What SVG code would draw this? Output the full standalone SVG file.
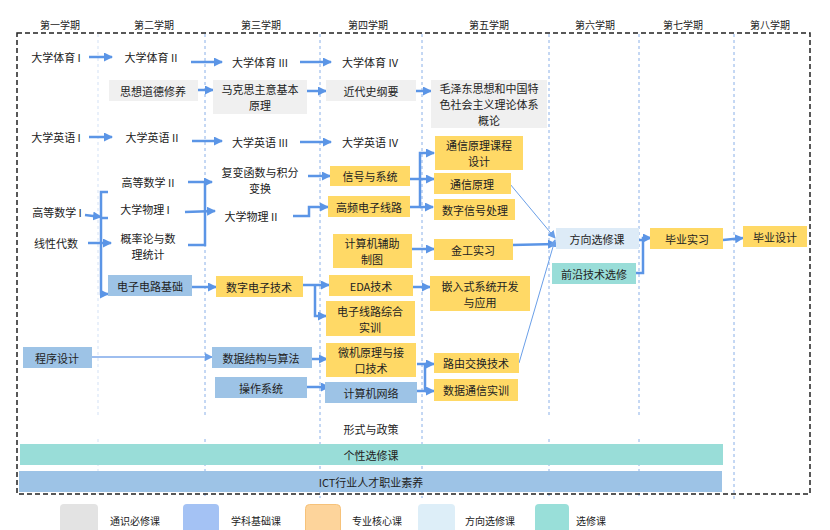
<svg xmlns="http://www.w3.org/2000/svg" width="830" height="530" viewBox="0 0 830 530">
<defs>
<style>
text{font-family:"Noto Sans CJK SC","Microsoft YaHei","Noto Sans",sans-serif;fill:#222;}
.tx{font-size:11px;text-anchor:middle;dominant-baseline:central;}
.hd{font-size:10px;text-anchor:middle;dominant-baseline:central;}
.lg{font-size:10px;dominant-baseline:central;}
.gray{fill:#f0f0f0;}
.blue{fill:#9dc3e6;}
.yel{fill:#ffd966;}
.lb{fill:#ddebf7;}
.teal{fill:#99ddd8;}
.c{stroke:#5b95e6;stroke-width:2.5;fill:none;}
.t{stroke:#6a9fe8;stroke-width:1;fill:none;}
.vl{stroke:#8ab0e8;stroke-width:1;stroke-dasharray:3,3;}
.vl0{stroke:#d3e1f5;stroke-width:1;stroke-dasharray:3,3;}
</style>
<marker id="ah" markerUnits="userSpaceOnUse" markerWidth="9" markerHeight="9" refX="8" refY="4.5" orient="auto">
<path d="M0,0 L9,4.5 L0,9 z" fill="#5b95e6"/>
</marker>
<marker id="ahs" markerUnits="userSpaceOnUse" markerWidth="8" markerHeight="8" refX="7" refY="4" orient="auto">
<path d="M0,0 L8,4 L0,8 z" fill="#6a9fe8"/>
</marker>
</defs>
<rect width="830" height="530" fill="#fff"/>

<g id="headers">
<text class="hd" x="60" y="24">第一学期</text>
<text class="hd" x="154" y="24">第二学期</text>
<text class="hd" x="261" y="24">第三学期</text>
<text class="hd" x="368" y="24">第四学期</text>
<text class="hd" x="489" y="24">第五学期</text>
<text class="hd" x="595" y="24">第六学期</text>
<text class="hd" x="683" y="24">第七学期</text>
<text class="hd" x="770" y="24">第八学期</text>
</g>

<g id="grid">
<line class="vl0" x1="98" y1="34" x2="98" y2="418"/>
<line class="vl0" x1="98" y1="439" x2="98" y2="494"/>
<line class="vl" x1="205" y1="34" x2="205" y2="418"/>
<line class="vl" x1="205" y1="439" x2="205" y2="496"/>
<line class="vl" x1="320" y1="34" x2="320" y2="498"/>
<line class="vl" x1="422" y1="34" x2="422" y2="498"/>
<line class="vl" x1="549" y1="34" x2="549" y2="418"/>
<line class="vl" x1="549" y1="439" x2="549" y2="498"/>
<line class="vl" x1="639" y1="34" x2="639" y2="418"/>
<line class="vl" x1="639" y1="439" x2="639" y2="499"/>
<line class="vl" x1="734" y1="34" x2="734" y2="499"/>
</g>

<g id="bars">
<rect class="teal" x="20" y="444" width="703" height="21"/>
<text class="tx" x="371" y="454.5">个性选修课</text>
<rect class="blue" x="19" y="471" width="703" height="21"/>
<text class="tx" x="371" y="481.5">ICT行业人才职业素养</text>
</g>

<rect x="17" y="33" width="793" height="461" fill="none" stroke="#222" stroke-width="1.5" stroke-dasharray="5,3"/>

<g id="connectors">
<line class="c" x1="89" y1="57" x2="112" y2="57" marker-end="url(#ah)"/>
<line class="c" x1="191" y1="62" x2="222" y2="62" marker-end="url(#ah)"/>
<line class="c" x1="300" y1="62" x2="331" y2="62" marker-end="url(#ah)"/>
<line class="c" x1="198" y1="90" x2="213" y2="90" marker-end="url(#ah)"/>
<line class="c" x1="307" y1="91" x2="326" y2="91" marker-end="url(#ah)"/>
<line class="c" x1="416" y1="91" x2="431" y2="91" marker-end="url(#ah)"/>
<line class="c" x1="89" y1="137" x2="112" y2="137" marker-end="url(#ah)"/>
<line class="c" x1="192" y1="141" x2="222" y2="141" marker-end="url(#ah)"/>
<line class="c" x1="300" y1="142" x2="331" y2="142" marker-end="url(#ah)"/>
<line class="c" x1="85" y1="215" x2="101" y2="217" marker-end="url(#ah)"/>
<line class="c" x1="88" y1="243" x2="111" y2="243" marker-end="url(#ah)"/>
<polyline class="c" points="108,192 101,192 101,294 108,294" marker-end="url(#ah)"/>
<line class="c" x1="101" y1="218" x2="108" y2="218"/>
<polyline class="c" points="188,245 205,245 205,182 188,182"/>
<line class="c" x1="205" y1="182" x2="212" y2="182" marker-end="url(#ah)"/>
<line class="c" x1="185" y1="212" x2="215" y2="211" marker-end="url(#ah)"/>
<line class="c" x1="308" y1="176" x2="330" y2="176" marker-end="url(#ah)"/>
<polyline class="c" points="293,216 309,216 309,207 328,207" marker-end="url(#ah)"/>
<line class="c" x1="410" y1="179" x2="434" y2="179" marker-end="url(#ah)"/>
<polyline class="c" points="409,207 420,207 420,153 434,153" marker-end="url(#ah)"/>
<line class="c" x1="420" y1="207" x2="433" y2="207" marker-end="url(#ah)"/>
<line class="c" x1="412" y1="249" x2="434" y2="249" marker-end="url(#ah)"/>
<line class="c" x1="512" y1="245" x2="556" y2="244" marker-end="url(#ah)"/>
<line class="t" x1="510" y1="184" x2="555" y2="238" marker-end="url(#ahs)"/>
<line class="t" x1="519" y1="363" x2="555" y2="240" marker-end="url(#ahs)"/>
<line class="c" x1="635" y1="240" x2="643" y2="240"/>
<polyline class="c" points="636,273 643,273 643,238 651,238" marker-end="url(#ah)"/>
<line class="c" x1="723" y1="240" x2="743" y2="238" marker-end="url(#ah)"/>
<line class="c" x1="192" y1="287" x2="216" y2="287" marker-end="url(#ah)"/>
<line class="c" x1="303" y1="285" x2="329" y2="285" marker-end="url(#ah)"/>
<polyline class="c" points="315,285 315,316 326,316" marker-end="url(#ah)"/>
<line class="c" x1="413" y1="287" x2="430" y2="287" marker-end="url(#ah)"/>
<line x1="92" y1="357" x2="212" y2="357" stroke="#7ea9ea" stroke-width="1.5" marker-end="url(#ahs)"/>
<line class="c" x1="312" y1="359" x2="327" y2="359" marker-end="url(#ah)"/>
<line class="c" x1="307" y1="387" x2="329" y2="387" marker-end="url(#ah)"/>
<polyline class="c" points="417,364 425,364 425,391 417,391"/>
<line class="c" x1="425" y1="364" x2="434" y2="364" marker-end="url(#ah)"/>
<line class="c" x1="425" y1="391" x2="434" y2="391" marker-end="url(#ah)"/>
</g>

<g id="n_pe1"><text class="tx" x="56" y="57">大学体育 I</text></g>
<g id="n_en1"><text class="tx" x="56" y="137">大学英语 I</text></g>
<g id="n_math1"><text class="tx" x="57" y="212">高等数学 I</text></g>
<g id="n_linalg"><text class="tx" x="56" y="243">线性代数</text></g>
<g id="n_prog"><rect class="blue" x="23" y="347" width="69" height="21"/><text class="tx" x="57" y="357.5">程序设计</text></g>

<g id="n_pe2"><text class="tx" x="151" y="57">大学体育 II</text></g>
<g id="n_moral"><rect class="gray" x="109" y="80" width="89" height="21"/><text class="tx" x="153" y="90.5">思想道德修养</text></g>
<g id="n_en2"><text class="tx" x="152" y="137">大学英语 II</text></g>
<g id="n_math2"><text class="tx" x="148" y="182">高等数学 II</text></g>
<g id="n_phy1"><text class="tx" x="145" y="209">大学物理  I</text></g>
<g id="n_prob"><text class="tx" x="148" y="238">概率论与数<tspan x="148" dy="16">理统计</tspan></text></g>
<g id="n_circuit"><rect class="blue" x="108" y="275" width="84" height="21"/><text class="tx" x="150" y="285.5">电子电路基础</text></g>

<g id="n_pe3"><text class="tx" x="260" y="62">大学体育 III</text></g>
<g id="n_marx"><rect class="gray" x="213" y="80" width="94" height="34"/><text class="tx" x="260" y="89">马克思主意基本<tspan x="260" dy="16">原理</tspan></text></g>
<g id="n_en3"><text class="tx" x="260" y="142">大学英语 III</text></g>
<g id="n_complex"><text class="tx" x="260" y="172">复变函数与积分<tspan x="260" dy="16">变换</tspan></text></g>
<g id="n_phy2"><text class="tx" x="251" y="216">大学物理  II</text></g>
<g id="n_digital"><rect class="yel" x="216" y="276" width="87" height="21"/><text class="tx" x="259" y="286.5">数字电子技术</text></g>
<g id="n_ds"><rect class="blue" x="212" y="347" width="100" height="21"/><text class="tx" x="261" y="357.5">数据结构与算法</text></g>
<g id="n_os"><rect class="blue" x="215" y="377" width="92" height="21"/><text class="tx" x="261" y="387.5">操作系统</text></g>

<g id="n_pe4"><text class="tx" x="370" y="62">大学体育 IV</text></g>
<g id="n_history"><rect class="gray" x="326" y="80" width="90" height="21"/><text class="tx" x="371" y="90.5">近代史纲要</text></g>
<g id="n_en4"><text class="tx" x="370" y="142">大学英语 IV</text></g>
<g id="n_signal"><rect class="yel" x="330" y="166" width="80" height="20"/><text class="tx" x="370" y="176">信号与系统</text></g>
<g id="n_hf"><rect class="yel" x="328" y="196" width="82" height="21"/><text class="tx" x="369" y="206.5">高频电子线路</text></g>
<g id="n_cad"><rect class="yel" x="333" y="234" width="79" height="34"/><text class="tx" x="372" y="243">计算机辅助<tspan x="372" dy="16">制图</tspan></text></g>
<g id="n_eda"><rect class="yel" x="329" y="275" width="84" height="21"/><text class="tx" x="371" y="285.5">EDA技术</text></g>
<g id="n_ecpr"><rect class="yel" x="326" y="301" width="89" height="35"/><text class="tx" x="370" y="310.5">电子线路综合<tspan x="370" dy="16">实训</tspan></text></g>
<g id="n_micro"><rect class="yel" x="326" y="343" width="90" height="34"/><text class="tx" x="371" y="352">微机原理与接<tspan x="371" dy="16">口技术</tspan></text></g>
<g id="n_net"><rect class="blue" x="325" y="382" width="92" height="21"/><text class="tx" x="371" y="392.5">计算机网络</text></g>
<g id="n_policy"><text class="tx" x="371" y="429">形式与政策</text></g>

<g id="n_mao"><rect class="gray" x="431" y="80" width="116" height="48"/><text class="tx" x="489" y="88">毛泽东思想和中国特<tspan x="489" dy="16">色社会主义理论体系</tspan><tspan x="489" dy="16">概论</tspan></text></g>
<g id="n_commdes"><rect class="yel" x="435" y="136" width="88" height="34"/><text class="tx" x="479" y="145">通信原理课程<tspan x="479" dy="16">设计</tspan></text></g>
<g id="n_comm"><rect class="yel" x="434" y="173" width="77" height="21"/><text class="tx" x="472" y="183.5">通信原理</text></g>
<g id="n_dsp"><rect class="yel" x="434" y="199" width="81" height="21"/><text class="tx" x="475" y="209.5">数字信号处理</text></g>
<g id="n_metal"><rect class="yel" x="434" y="239" width="79" height="21"/><text class="tx" x="473" y="249.5">金工实习</text></g>
<g id="n_embed"><rect class="yel" x="430" y="276" width="100" height="35"/><text class="tx" x="480" y="285.5">嵌入式系统开发<tspan x="480" dy="16">与应用</tspan></text></g>
<g id="n_route"><rect class="yel" x="434" y="353" width="85" height="20"/><text class="tx" x="476" y="363">路由交换技术</text></g>
<g id="n_datacomm"><rect class="yel" x="434" y="379" width="84" height="22"/><text class="tx" x="476" y="390">数据通信实训</text></g>

<g id="n_direction"><rect class="lb" x="556" y="228" width="83" height="21"/><text class="tx" x="597" y="238.5">方向选修课</text></g>
<g id="n_frontier"><rect class="teal" x="552" y="263" width="84" height="21"/><text class="tx" x="594" y="273.5">前沿技术选修</text></g>
<g id="n_intern"><rect class="yel" x="650" y="228" width="73" height="21"/><text class="tx" x="687" y="238.5">毕业实习</text></g>
<g id="n_thesis"><rect class="yel" x="743" y="226" width="64" height="21"/><text class="tx" x="775" y="236.5">毕业设计</text></g>

<g id="legend">
<rect x="60" y="504" width="38" height="30" rx="4" fill="#e3e3e3"/>
<text class="lg" x="110" y="520">通识必修课</text>
<rect x="183" y="504" width="36" height="30" rx="4" fill="#a4c2f4"/>
<text class="lg" x="231" y="520">学科基础课</text>
<rect x="305.5" y="504.5" width="35" height="30" rx="4" fill="#fdd49b" stroke="#f6c27a" stroke-width="1"/>
<text class="lg" x="352" y="520">专业核心课</text>
<rect x="418" y="504" width="37" height="30" rx="4" fill="#ddeef8"/>
<text class="lg" x="465" y="520">方向选修课</text>
<rect x="535" y="504" width="34" height="30" rx="4" fill="#99dfd9"/>
<text class="lg" x="576" y="520">选修课</text>
</g>
</svg>
